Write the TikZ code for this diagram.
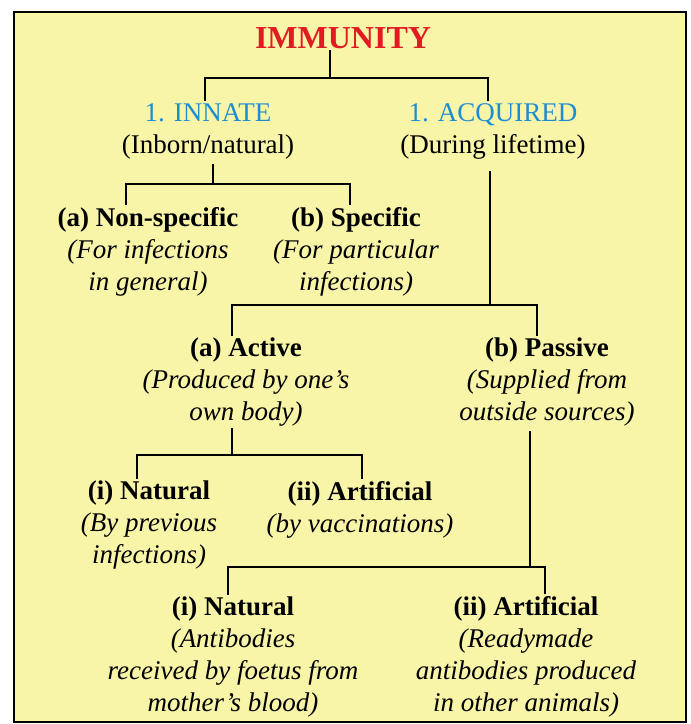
\documentclass[tikz,border=0pt]{standalone}
\usepackage{fontspec}
\setmainfont{Liberation Serif}
\usepackage{tikz}
\definecolor{panel}{RGB}{249,245,168}
\definecolor{titlered}{RGB}{226,27,35}
\definecolor{kindblue}{RGB}{30,140,210}
\tikzstyle{title}=[font=\fontsize{32}{36}\selectfont\bfseries,text=titlered,inner sep=1pt]
\tikzstyle{group}=[align=center,font=\fontsize{27}{32}\selectfont,inner sep=2pt]
\tikzstyle{branch}=[line width=2.2pt]
\tikzset{every picture/.style={
    x=1pt,y=-1pt
  }
}
\begin{document}
\begin{tikzpicture}
        \useasboundingbox (0,0) rectangle (691,724);
        \draw[line width=2pt,fill=panel] (14,12) rectangle (686,722);
        \node[title] at (343,38) (imm) {IMMUNITY};
        \node[group] at (208,131) (innate) {{\color{kindblue}1. INNATE}\\(Inborn/natural)};
        \node[group] at (493,131) (acq) {{\color{kindblue}1. ACQUIRED}\\(During lifetime)};
        \node[group] at (148,252) (nonspec) {\textbf{(a) Non-specific}\\\textit{(For infections}\\\textit{in general)}};
        \node[group] at (356,252) (spec) {\textbf{(b) Specific}\\\textit{(For particular}\\\textit{infections)}};
        \node[group] at (246,382) (active) {\textbf{(a) Active}\\\textit{(Produced by one’s}\\\textit{own body)}};
        \node[group] at (547,382) (passive) {\textbf{(b) Passive}\\\textit{(Supplied from}\\\textit{outside sources)}};
        \node[group] at (149,525) (actnat) {\textbf{(i) Natural}\\\textit{(By previous}\\\textit{infections)}};
        \node[group] at (360,510) (actart) {\textbf{(ii) Artificial}\\\textit{(by vaccinations)}};
        \node[group] at (233,657) (pasnat) {\textbf{(i) Natural}\\\textit{(Antibodies}\\\textit{received by foetus from}\\\textit{mother’s blood)}};
        \node[group] at (526,657) (pasart) {\textbf{(ii) Artificial}\\\textit{(Readymade}\\\textit{antibodies produced}\\\textit{in other animals)}};
        \coordinate (immbar) at (330,78);
        \coordinate (innbar) at (213,184);
        \coordinate (acqbar) at (490,305);
        \coordinate (actbar) at (232,455);
        \coordinate (pasbar) at (530,567);
        \draw[branch] (imm.south -| immbar) -- (immbar);
        \draw[branch] ([xshift=-3pt]innate.north) |- (immbar) -| ([xshift=-5pt]acq.north);
        \draw[branch] ([yshift=-3pt]innate.south -| innbar) -- (innbar);
        \draw[branch] ([xshift=-22pt]nonspec.north) |- (innbar) -| ([xshift=-6pt]spec.north);
        \draw[branch] ([yshift=-10pt]acq.south -| acqbar) -- (acqbar);
        \draw[branch] ([xshift=-14pt]active.north) |- (acqbar) -| ([xshift=-10pt]passive.north);
        \draw[branch] (active.south -| actbar) -- (actbar);
        \draw[branch] ([xshift=-12pt]actnat.north) |- (actbar) -| ([xshift=2pt]actart.north);
        \draw[branch] ([yshift=-3pt]passive.south -| pasbar) -- (pasbar);
        \draw[branch] ([xshift=-5pt]pasnat.north) |- (pasbar) -| ([xshift=19pt]pasart.north);
      \end{tikzpicture}
\end{document}
